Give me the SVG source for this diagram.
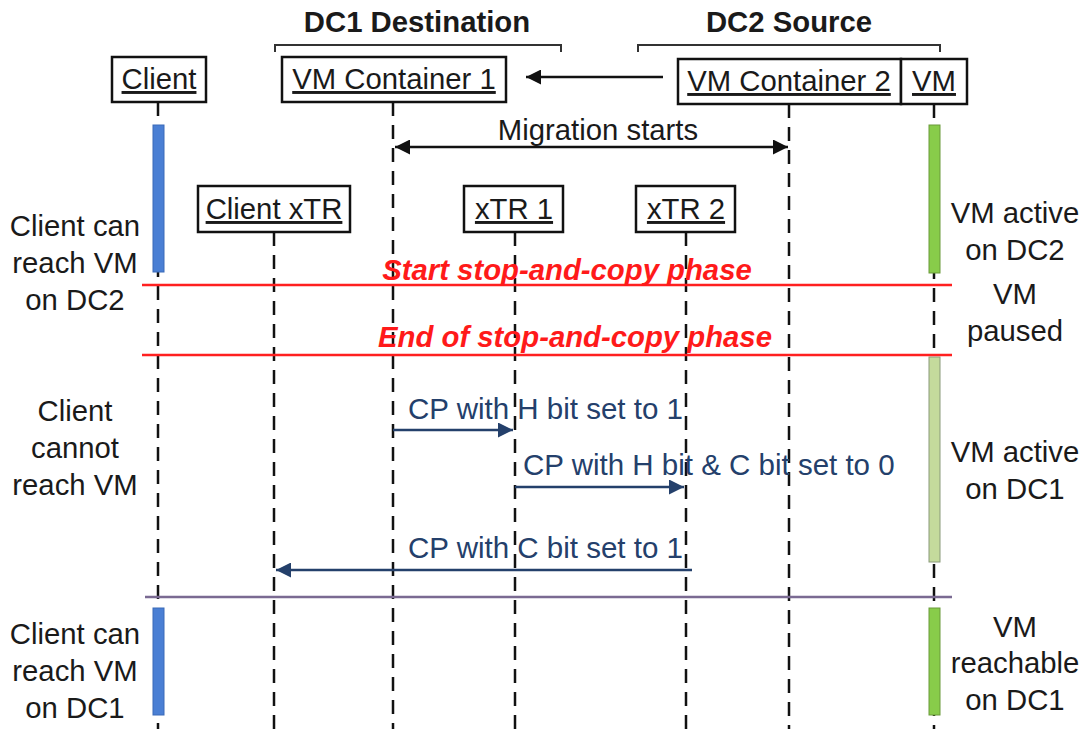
<svg xmlns="http://www.w3.org/2000/svg" width="1089" height="729" viewBox="0 0 1089 729">
<style>
text{font-family:"Liberation Sans",Arial,sans-serif;font-size:29.3px;fill:#1a1a1a}
.hd{font-weight:bold;text-anchor:middle}
.lbl{text-anchor:middle;text-decoration:underline}
.side{text-anchor:middle}
.red{font-weight:bold;font-style:italic;fill:#ff1a1a;text-anchor:middle}
.cp{fill:#24406b;font-size:29.5px}
.box{fill:#fff;stroke:#111;stroke-width:2.5}
.life{stroke:#111;stroke-width:2.5;stroke-dasharray:14 9;fill:none}
.brk{fill:none;stroke:#333;stroke-width:2}
</style>
<defs>
<marker id="ab" viewBox="0 0 10 10" refX="10" refY="5" markerWidth="6" markerHeight="6" orient="auto-start-reverse"><path d="M0,0 L10,5 L0,10 z" fill="#111"/></marker>
<marker id="an" viewBox="0 0 10 10" refX="10" refY="5" markerWidth="6" markerHeight="6" orient="auto-start-reverse"><path d="M0,0 L10,5 L0,10 z" fill="#24406b"/></marker>
</defs>
<rect width="1089" height="729" fill="#fff"/>

<!-- headers -->
<text class="hd" x="417" y="32">DC1 Destination</text>
<text class="hd" x="789" y="32">DC2 Source</text>
<path class="brk" d="M275,52 V45 H561 V52"/>
<path class="brk" d="M638,52 V45 H940 V52"/>

<!-- lifelines -->
<g id="lifelines">
<line class="life" x1="158" y1="102" x2="158" y2="729"/>
<line class="life" x1="393" y1="102" x2="393" y2="729"/>
<line class="life" x1="789" y1="104" x2="789" y2="729"/>
<line class="life" x1="934" y1="104" x2="934" y2="729"/>
<line class="life" x1="274" y1="232" x2="274" y2="729"/>
<line class="life" x1="515" y1="232" x2="515" y2="729"/>
<line class="life" x1="686" y1="232" x2="686" y2="729"/>
</g>

<!-- activation bars -->
<g id="bars">
<rect x="153" y="125" width="11" height="147" fill="#4a7fd4" stroke="#3a6ab8" stroke-width="1"/>
<rect x="153" y="608" width="11" height="107" fill="#4a7fd4" stroke="#3a6ab8" stroke-width="1"/>
<rect x="929" y="125" width="11" height="148" fill="#88cc4a" stroke="#6a9a3a" stroke-width="1"/>
<rect x="929" y="357" width="11" height="205" fill="#c4da9c" stroke="#8a9a7a" stroke-width="1"/>
<rect x="929" y="608" width="11" height="107" fill="#88cc4a" stroke="#6a9a3a" stroke-width="1"/>
</g>

<!-- nodes -->
<g id="client"><rect class="box" x="112" y="57" width="94" height="45"/><text class="lbl" x="159" y="89">Client</text></g>
<g id="vmc1"><rect class="box" x="282" y="57" width="224" height="45"/><text class="lbl" x="394" y="89">VM Container 1</text></g>
<g id="vmc2"><rect class="box" x="678" y="59" width="223" height="45"/><text class="lbl" x="789" y="91">VM Container 2</text></g>
<g id="vm"><rect class="box" x="901" y="59" width="66" height="45"/><text class="lbl" x="934" y="91">VM</text></g>
<g id="clientxtr"><rect class="box" x="198" y="186" width="152" height="46"/><text class="lbl" x="274" y="219">Client xTR</text></g>
<g id="xtr1"><rect class="box" x="464" y="186" width="99" height="46"/><text class="lbl" x="514" y="219">xTR 1</text></g>
<g id="xtr2"><rect class="box" x="636" y="186" width="99" height="46"/><text class="lbl" x="686" y="219">xTR 2</text></g>

<!-- connectors -->
<g id="connectors">
<line x1="663" y1="77" x2="526" y2="77" stroke="#111" stroke-width="2.5" marker-end="url(#ab)"/>
<line x1="395" y1="147" x2="788" y2="147" stroke="#111" stroke-width="2.5" marker-start="url(#ab)" marker-end="url(#ab)"/>
<line x1="142" y1="285" x2="952" y2="285" stroke="#ff2020" stroke-width="2.5"/>
<line x1="142" y1="355" x2="952" y2="355" stroke="#ff2020" stroke-width="2.5"/>
<line x1="393" y1="430" x2="513" y2="430" stroke="#24406b" stroke-width="2.5" marker-end="url(#an)"/>
<line x1="515" y1="487" x2="684" y2="487" stroke="#24406b" stroke-width="2.5" marker-end="url(#an)"/>
<line x1="692" y1="570" x2="276" y2="570" stroke="#24406b" stroke-width="2.5" marker-end="url(#an)"/>
<line x1="145" y1="597" x2="952" y2="597" stroke="#7a6a92" stroke-width="2.5"/>
</g>

<!-- labels -->
<text class="side" x="598" y="140">Migration starts</text>
<text class="red" x="567" y="280">Start stop-and-copy phase</text>
<text class="red" x="575" y="347">End of stop-and-copy phase</text>
<text class="cp" x="408" y="419">CP with H bit set to 1</text>
<text class="cp" x="523" y="475">CP with H bit &amp; C bit set to 0</text>
<text class="cp" x="408" y="558">CP with C bit set to 1</text>

<g id="left-notes">
<text class="side" x="75" y="236">Client can</text>
<text class="side" x="75" y="273">reach VM</text>
<text class="side" x="75" y="310">on DC2</text>
<text class="side" x="75" y="421">Client</text>
<text class="side" x="75" y="458">cannot</text>
<text class="side" x="75" y="495">reach VM</text>
<text class="side" x="75" y="644">Client can</text>
<text class="side" x="75" y="681">reach VM</text>
<text class="side" x="75" y="718">on DC1</text>
</g>
<g id="right-notes">
<text class="side" x="1015" y="223">VM active</text>
<text class="side" x="1015" y="260">on DC2</text>
<text class="side" x="1015" y="304">VM</text>
<text class="side" x="1015" y="341">paused</text>
<text class="side" x="1015" y="462">VM active</text>
<text class="side" x="1015" y="499">on DC1</text>
<text class="side" x="1015" y="637">VM</text>
<text class="side" x="1015" y="673">reachable</text>
<text class="side" x="1015" y="710">on DC1</text>
</g>
</svg>
